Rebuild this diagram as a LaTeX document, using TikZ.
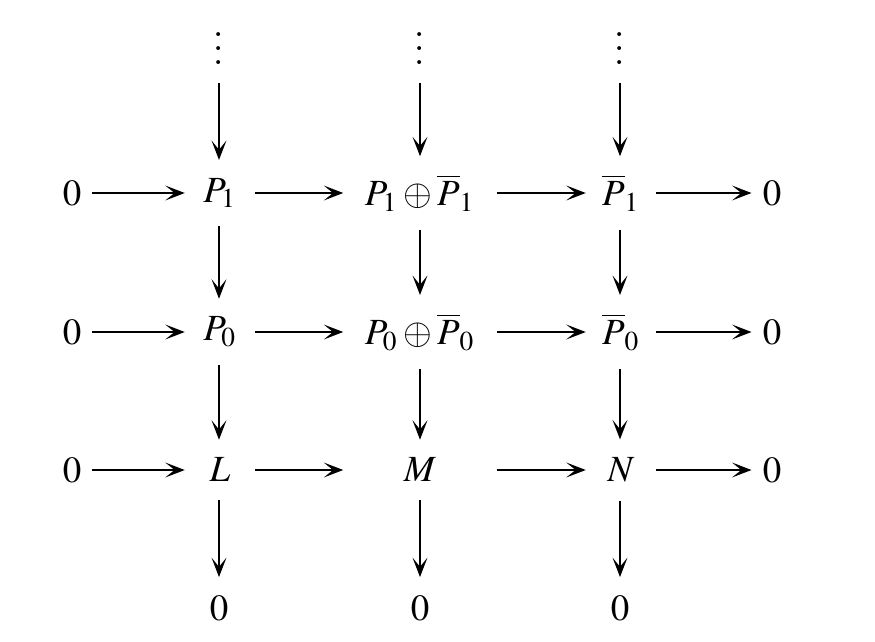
\documentclass[tikz,border=0pt]{standalone}
\usepackage{mathptmx}
\usetikzlibrary{arrows.meta}

\tikzset{
  obj/.style={inner xsep=3pt, inner ysep=5pt, font=\fontsize{10.5}{12}\selectfont},
  narrowcol/.style={obj, minimum width=0.69cm},
  widecol/.style={obj, minimum width=1.52cm},
  dotsbox/.style={obj, inner ysep=5pt},
  map/.style={->, line width=0.8pt}
}

\begin{document}
\begin{tikzpicture}[x=0.01cm, y=-0.01cm, >={Stealth[length=5.5pt, width=4.2pt, inset=2.6pt]}]
\useasboundingbox (0,0) rectangle (875,642);

% dots on top
\node[dotsbox] (d1) at (219,38) {$\vdots$};
\node[dotsbox] (d2) at (420,38) {$\vdots$};
\node[dotsbox] (d3) at (620,38) {$\vdots$};

% row of P_1
\node[obj] (a0) at (72,193) {$0$};
\node[narrowcol] (a1) at (220,193) {$P_1$};
\node[widecol] (a2) at (420,193) {$P_1\oplus\overline{P}_1$};
\node[narrowcol] (a3) at (621,193) {$\overline{P}_1$};
\node[obj] (a4) at (772,193) {$0$};

% row of P_0
\node[obj] (b0) at (72,332) {$0$};
\node[narrowcol] (b1) at (220,332) {$P_0$};
\node[widecol] (b2) at (420,332) {$P_0\oplus\overline{P}_0$};
\node[narrowcol] (b3) at (621,332) {$\overline{P}_0$};
\node[obj] (b4) at (772,332) {$0$};

% row of L, M, N
\node[obj] (c0) at (72,470) {$0$};
\node[narrowcol] (c1) at (220,470) {$L$};
\node[widecol] (c2) at (420,470) {$M$};
\node[narrowcol] (c3) at (621,470) {$N$};
\node[obj] (c4) at (772,470) {$0$};

% zeros at the bottom
\node[obj] (z1) at (219,608) {$0$};
\node[obj] (z2) at (420,608) {$0$};
\node[obj] (z3) at (620,608) {$0$};

\foreach \r in {a,b,c}
  \foreach \i/\j in {0/1,1/2,2/3,3/4}
    \draw[map] (\r\i) -- (\r\j);

\foreach \k in {1,2,3} {
  \draw[map] (d\k) -- (d\k |- a\k.north);
  \draw[map] (a\k.south -| d\k) -- (d\k |- b\k.north);
  \draw[map] (b\k.south -| d\k) -- (d\k |- c\k.north);
  \draw[map] (c\k.south -| d\k) -- (z\k);
}
\end{tikzpicture}
\end{document}
